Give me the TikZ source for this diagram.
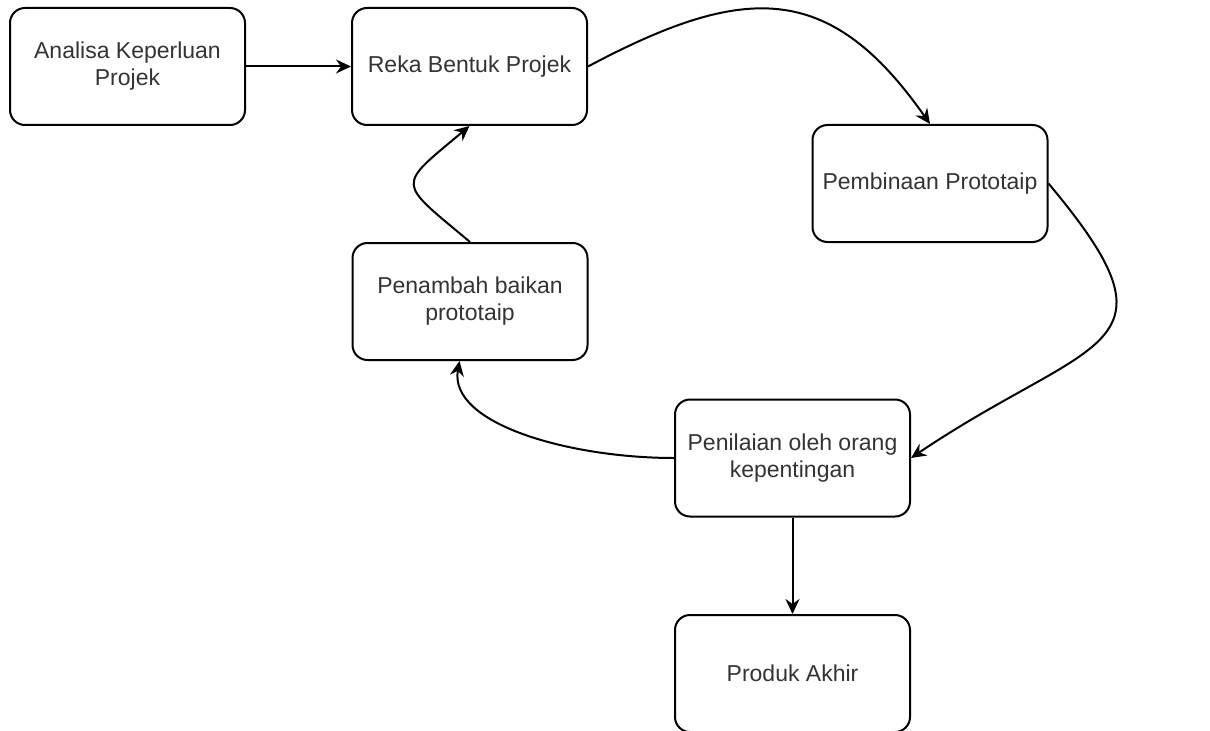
\documentclass[tikz,border=0pt]{standalone}
\usepackage{fontspec}
\setmainfont{Liberation Sans}
\usetikzlibrary{arrows.meta}
\definecolor{teks}{HTML}{333333}
\tikzset{
    kotak/.style={draw=black, line width=1pt, rounded corners=7.5pt, minimum width=117.5pt, minimum height=58.5pt, align=center, text=teks, font=\fontsize{11.5}{13.5}\selectfont},
    panah/.style={-{Stealth[length=7.5pt,width=7pt,inset=2.5pt]}, line width=1pt, color=black}
}

\begin{document}
\begin{tikzpicture}[x=0.5pt,y=0.5pt]
        \useasboundingbox (0,0) rectangle (1210,730);

        \node[kotak] (analisa) at (127.5,663.5) {Analisa Keperluan\\Projek};
        \node[kotak] (reka) at (469.5,663.5) {Reka Bentuk Projek};
        \node[kotak] (bina) at (930,546.5) {Pembinaan Prototaip};
        \node[kotak] (baik) at (470,428.5) {Penambah baikan\\prototaip};
        \node[kotak] (nilai) at (792.5,272) {Penilaian oleh orang\\kepentingan};
        \node[kotak] (produk) at (792.5,56.5) {Produk Akhir};

        \draw[panah] (analisa) -- (reka);
        \draw[panah] (reka.east) to[out=28,in=125,out distance=88pt,in distance=88pt] (bina.north);
        \draw[panah] (bina.east) to[out=-50,in=34,out distance=110pt,in distance=110pt] (nilai.east);
        \draw[panah] (nilai.west) to[out=180,in=-100,out distance=52pt,in distance=32pt] (baik.-100);
        \draw[panah] (baik.north) to[out=140,in=-140,out distance=48pt,in distance=48pt] (reka.south);
        \draw[panah] (nilai) -- (produk);

\end{tikzpicture}
\end{document}
